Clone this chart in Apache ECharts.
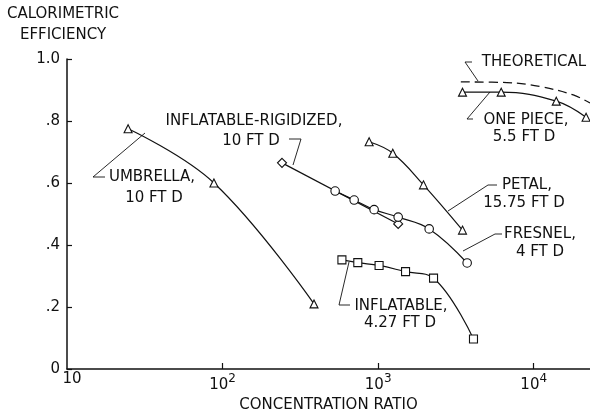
<!DOCTYPE html>
<html><head><meta charset="utf-8">
<script src="https://cdn.jsdelivr.net/npm/echarts@6/dist/echarts.min.js"></script>
<style>html,body{margin:0;padding:0;background:#fff}#c{width:590px;height:415px}</style>
</head><body><div id="c"></div>
<script>
// ---- data ----
const umbrellaX = [24.7, 88, 387];
const umbrellaY = [0.775, 0.600, 0.210];
const rigidizedX = [241, 1345];
const rigidizedY = [0.665, 0.468];
const fresnelX = [529, 701, 942, 1345, 2128, 3733];
const fresnelY = [0.574, 0.545, 0.514, 0.490, 0.452, 0.342];
const petalX = [875, 1242, 1955, 3485];
const petalY = [0.733, 0.696, 0.594, 0.448];
const inflatableX = [585, 740, 1014, 1500, 2270, 4100];
const inflatableY = [0.352, 0.343, 0.334, 0.314, 0.293, 0.097];
const onePieceX = [3485, 6180, 13960, 21700];
const onePieceY = [0.893, 0.893, 0.864, 0.812];
const theoreticalX = [3400, 6730, 11000, 17950, 23000];
const theoreticalY = [0.926, 0.924, 0.911, 0.884, 0.858];
const xTickValues = [100, 1000, 10000];
const xLabelValues = [10, 100, 1000, 10000];
const yTickLabels = ['0', '.2', '.4', '.6', '.8', '1.0'];

const FONT = 'DejaVu Sans';
const INK = '#111';
const pairs = (xs, ys) => xs.map((x, i) => [x, ys[i]]);

function ser(name, xs, ys, symbol, extra) {
  return Object.assign({
    type: 'line', name: name, data: pairs(xs, ys), symbol: symbol, symbolSize: 8,
    showSymbol: true, smooth: 0.4, clip: false,
    lineStyle: { color: INK, width: 1.2 },
    itemStyle: { color: '#fff', borderColor: INK, borderWidth: 1.1 },
    emphasis: { disabled: true }, silent: true
  }, extra || {});
}

const chart = echarts.init(document.getElementById('c'), null, { renderer: 'canvas' });

const labels = [
  ['THEORETICAL', 534, 62],
  ['ONE PIECE,', 526, 120], ['5.5 FT D', 524, 137],
  ['PETAL,', 527, 185], ['15.75 FT D', 524, 203],
  ['FRESNEL,', 540, 234], ['4 FT D', 540, 252],
  ['UMBRELLA,', 152, 177], ['10 FT D', 154, 198],
  ['INFLATABLE-RIGIDIZED,', 254, 121], ['10 FT D', 251, 141],
  ['INFLATABLE,', 401, 306], ['4.27 FT D', 400, 323]
];
const leaders = [
  [[472, 62], [465, 62], [478, 81]],
  [[473, 119], [467, 119], [490, 92]],
  [[497, 185], [488, 185], [448, 211]],
  [[502, 234], [495, 234], [463, 251]],
  [[105, 177], [93, 177], [145, 133]],
  [[289, 139], [301, 139], [293, 165]],
  [[350, 305], [339, 305], [349, 262]]
];

const graphic = [];
labels.forEach(l => graphic.push({
  type: 'text', x: l[1], y: l[2], silent: true,
  style: { text: l[0], font: '15px "' + FONT + '"', fill: INK, align: 'center', verticalAlign: 'middle' }
}));
leaders.forEach(p => graphic.push({
  type: 'polyline', silent: true, shape: { points: p },
  style: { stroke: INK, lineWidth: 0.9, fill: null }
}));

chart.setOption({
  animation: false,
  backgroundColor: '#fff',
  grid: { left: 67, right: 0, top: 59, bottom: 46, containLabel: false, outerBoundsMode: 'none' },
  xAxis: {
    type: 'log', logBase: 10, min: 10, max: 23000,
    name: 'CONCENTRATION RATIO', nameLocation: 'middle', nameGap: 28,
    nameTextStyle: { fontFamily: FONT, fontSize: 15, color: INK },
    axisLine: { lineStyle: { color: INK, width: 1.5 } },
    axisTick: { inside: true, length: 6, customValues: xTickValues, lineStyle: { color: INK, width: 1.2 } },
    axisLabel: {
      customValues: xLabelValues, margin: 4, color: INK, fontFamily: FONT,
      formatter: function (v) {
        const e = Math.round(Math.log10(v));
        if (Math.abs(Math.log10(v) - e) > 1e-6) return '';
        if (e === 1) return '{o|10}';
        return '{b|10}{s|' + e + '}';
      },
      rich: {
        o: { fontSize: 15, fontFamily: FONT, color: INK, lineHeight: 12, padding: [0, 0, 0, 10] },
        b: { fontSize: 15, fontFamily: FONT, color: INK, lineHeight: 20, verticalAlign: 'bottom' },
        s: { fontSize: 12, fontFamily: FONT, color: INK, lineHeight: 20, verticalAlign: 'top' }
      }
    },
    splitLine: { show: false }
  },
  yAxis: {
    type: 'value', min: 0, max: 1, interval: 0.2,
    name: 'CALORIMETRIC\nEFFICIENCY', nameLocation: 'end', nameGap: 13,
    nameTextStyle: { fontFamily: FONT, fontSize: 15, color: INK, align: 'center', lineHeight: 21, padding: [0, 8, 0, 0] },
    axisLine: { show: true, lineStyle: { color: INK, width: 1.5 } },
    axisTick: { show: true, inside: true, length: 5, lineStyle: { color: INK, width: 1.2 } },
    axisLabel: {
      margin: 7, color: INK, fontFamily: FONT, fontSize: 15,
      formatter: function (v) { return yTickLabels[Math.round(v * 5)]; }
    },
    splitLine: { show: false }
  },
  series: [
    ser('THEORETICAL', theoreticalX, theoreticalY, 'none', { showSymbol: false, lineStyle: { color: INK, width: 1.3, type: [9, 5] } }),
    ser('UMBRELLA, 10 FT D', umbrellaX, umbrellaY, 'triangle'),
    ser('INFLATABLE-RIGIDIZED, 10 FT D', rigidizedX, rigidizedY, 'diamond', { smooth: false, symbolSize: 9 }),
    ser('FRESNEL, 4 FT D', fresnelX, fresnelY, 'circle', { symbolSize: 8.5 }),
    ser('PETAL, 15.75 FT D', petalX, petalY, 'triangle'),
    ser('INFLATABLE, 4.27 FT D', inflatableX, inflatableY, 'rect'),
    ser('ONE PIECE, 5.5 FT D', onePieceX, onePieceY, 'triangle')
  ],
  graphic: graphic
});
</script>
</body></html>
